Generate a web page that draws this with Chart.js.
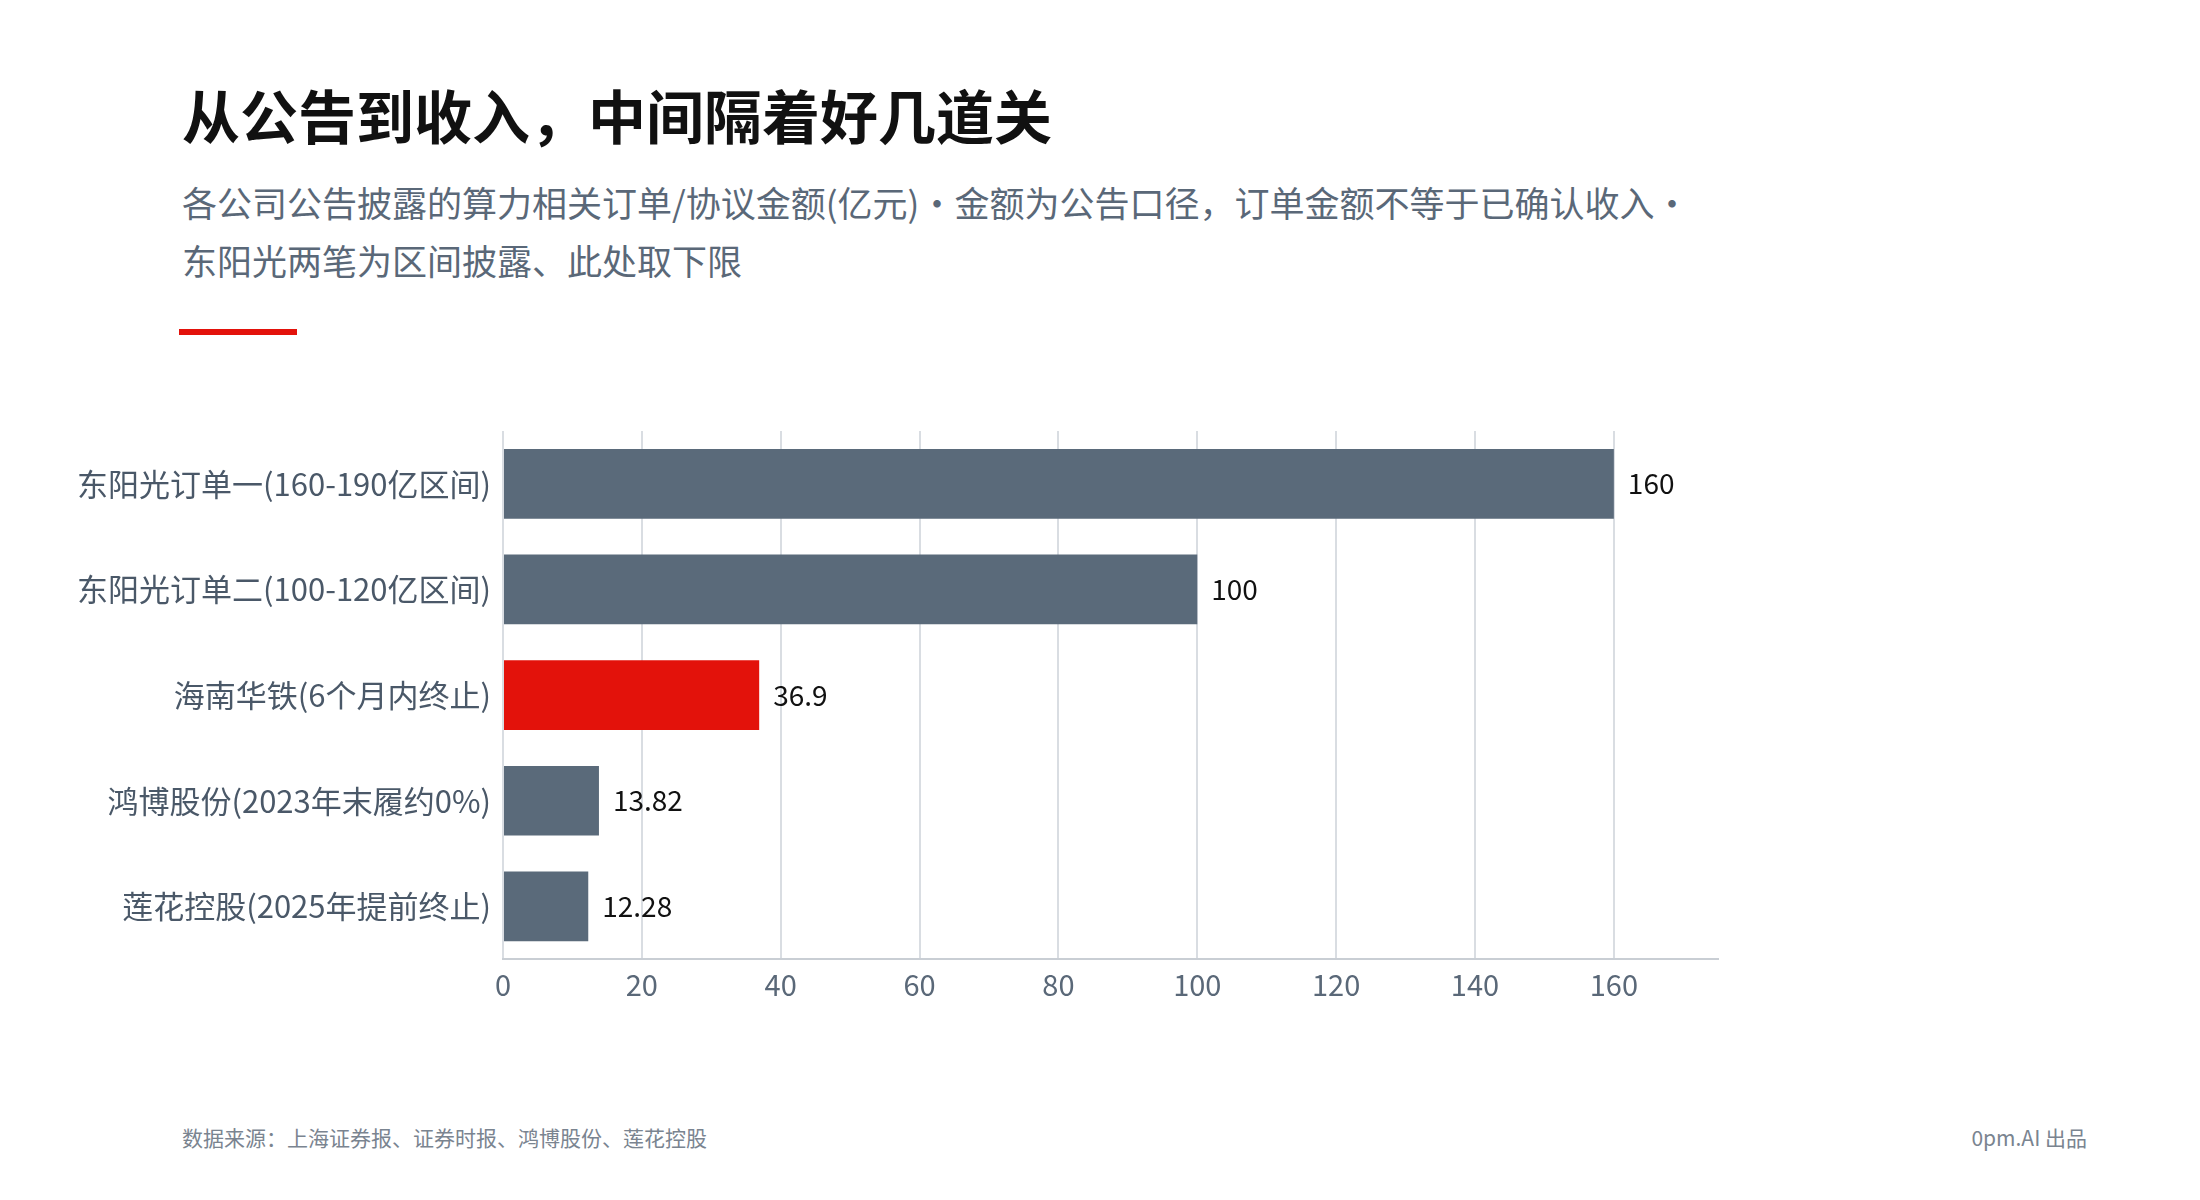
<!DOCTYPE html>
<html><head><meta charset="utf-8">
<script src="https://cdn.jsdelivr.net/npm/chart.js@4"></script>
<style>
body{margin:0;width:2200px;height:1200px;background:#fff;font-family:"Noto Sans CJK SC","Noto Sans",sans-serif;position:relative;overflow:hidden}
#title{position:absolute;left:182px;top:72px;font-size:58px;font-weight:700;color:#111}
#sub{position:absolute;left:182px;top:173px;font-size:35px;line-height:58px;color:#5a6878;width:1700px}
#rule{position:absolute;left:179px;top:329px;width:118px;height:6px;background:#e3120b}
#wrap{position:absolute;left:0;top:408px;width:1800px;height:602px}
#src{position:absolute;left:182px;top:1122px;font-size:21px;color:#7a8490}
#brand{position:absolute;right:113px;top:1122px;font-size:21px;color:#7a8490}
</style></head><body>
<div id="title">从公告到收入，中间隔着好几道关</div>
<div id="sub">各公司公告披露的算力相关订单/协议金额(亿元)・金额为公告口径，订单金额不等于已确认收入・<br>东阳光两笔为区间披露、此处取下限</div>
<div id="rule"></div>
<div id="wrap"><canvas id="c"></canvas></div>
<div id="src">数据来源：上海证券报、证券时报、鸿博股份、莲花控股</div>
<div id="brand">0pm.AI 出品</div>
<script>
const categories=["东阳光订单一(160-190亿区间)","东阳光订单二(100-120亿区间)","海南华铁(6个月内终止)","鸿博股份(2023年末履约0%)","莲花控股(2025年提前终止)"];
const values=[160,100,36.9,13.82,12.28];
const labels=["160","100","36.9","13.82","12.28"];
const highlight=[false,false,true,false,false];
const xTicks=[0,20,40,60,80,100,120,140,160];
const F='"Noto Sans CJK SC","Noto Sans",sans-serif';
const valuePlugin={id:'vals',afterDatasetsDraw(ch){const ctx=ch.ctx;const m=ch.getDatasetMeta(0);ctx.save();ctx.font='28px '+F;ctx.fillStyle='#111';ctx.textBaseline='middle';m.data.forEach((b,i)=>{ctx.fillText(labels[i],b.x+14,b.y);});ctx.restore();}};
new Chart(document.getElementById('c'),{type:'bar',
data:{labels:categories,datasets:[{data:values,backgroundColor:highlight.map(h=>h?'#e3120b':'#5a6a7a'),barPercentage:0.66,categoryPercentage:1}]},
options:{indexAxis:'y',responsive:true,maintainAspectRatio:false,animation:false,
layout:{padding:{top:23,right:82,left:0,bottom:0}},
plugins:{legend:{display:false},tooltip:{enabled:false}},
scales:{x:{min:0,max:175,afterBuildTicks:a=>{a.ticks=xTicks.map(v=>({value:v}));},
grid:{color:'#d9dde2',lineWidth:2,drawTicks:false},border:{color:'#c9ced4',width:2},
ticks:{color:'#5a6878',font:{size:29,family:F},padding:8}},
y:{afterFit:s=>{s.width=503;},grid:{display:false},border:{display:false},ticks:{color:'#4a5868',font:{size:31,family:F},padding:4}}}},
plugins:[valuePlugin]});
</script></body></html>
